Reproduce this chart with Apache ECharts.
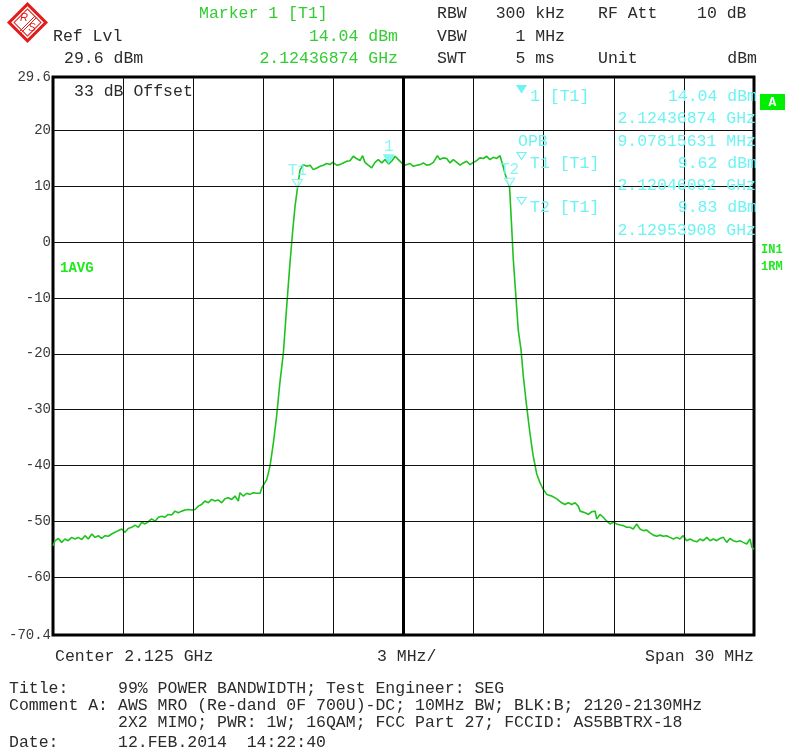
<!DOCTYPE html>
<html><head><meta charset="utf-8">
<script src="https://cdn.jsdelivr.net/npm/echarts@6/dist/echarts.min.js"></script>
<style>html,body{margin:0;padding:0;background:#fff}#c{width:788px;height:756px}</style>
</head><body><div id="c"></div>
<script>
// ---- data ----
const freqMHz = [
2110.00,2110.09,2110.23,2110.37,2110.51,2110.65,2110.80,2110.94,2111.08,2111.23,2111.37,2111.51,2111.66,2111.80,2111.94,
2112.08,2112.23,2112.37,2112.51,2112.65,2112.79,2112.94,2113.08,2113.22,2113.37,2113.51,2113.65,2113.80,2113.94,
2114.08,2114.22,2114.37,2114.51,2114.65,2114.79,2114.93,2115.08,2115.22,2115.36,2115.51,2115.65,2115.79,2115.94,
2116.08,2116.22,2116.36,2116.50,2116.65,2116.79,2116.93,2117.07,2117.22,2117.36,2117.50,2117.65,2117.79,2117.93,
2118.00,2118.14,2118.29,2118.43,2118.57,2118.72,2118.86,2118.94,2119.07,2119.15,2119.29,2119.43,2119.57,2119.71,2119.86,
2120.00,2120.14,2120.26,2120.36,2120.46,2120.57,2120.71,2120.86,2121.00,2121.14,2121.29,2121.43,2121.57,2121.71,2121.85,
2121.97,2122.14,2122.28,2122.42,2122.57,2122.71,2122.85,2122.99,2123.14,2123.25,2123.35,2123.49,2123.64,2123.78,2123.92,
2124.07,2124.21,2124.37,2124.51,2124.64,2124.78,2124.92,2125.06,2125.28,2125.42,2125.57,2125.71,2125.85,2125.99,2126.13,
2126.28,2126.45,2126.56,2126.70,2126.85,2126.99,2127.13,2127.28,2127.42,2127.56,2127.70,2127.85,2127.99,2128.13,2128.27,
2128.42,2128.56,2128.70,2128.84,2128.99,2129.13,2129.27,2129.34,2129.49,2129.54,2129.63,2129.70,2129.80,2129.91,2130.03,
2130.13,2130.27,2130.41,2130.55,2130.70,2130.84,2130.91,2130.98,2131.13,2131.34,2131.56,2131.77,2131.91,2132.05,2132.20,
2132.34,2132.48,2132.56,2132.77,2132.92,2133.06,2133.20,2133.27,2133.41,2133.55,2133.70,2133.84,2133.98,2134.13,2134.27,
2134.41,2134.55,2134.69,2134.83,2134.98,2135.12,2135.26,2135.41,2135.55,2135.69,2135.84,2135.98,2136.12,2136.26,2136.40,
2136.55,2136.69,2136.83,2136.97,2137.12,2137.26,2137.40,2137.55,2137.69,2137.83,2137.98,2138.12,2138.26,2138.40,2138.54,
2138.69,2138.83,2138.97,2139.11,2139.26,2139.40,2139.54,2139.69,2139.83,2139.91,2140.00
];
const levelDbm = [
-54.4,-53.5,-53.1,-53.8,-53.2,-53.5,-52.9,-53.2,-52.9,-53.3,-52.6,-53.2,-52.3,-52.9,-52.6,
-53.1,-52.6,-52.7,-52.3,-52.0,-51.7,-51.4,-52.0,-51.3,-51.1,-50.7,-51.1,-50.2,-50.5,
-50.1,-49.6,-50.0,-49.3,-49.1,-49.3,-48.8,-48.9,-48.2,-48.5,-48.2,-48.0,-47.9,-48.0,
-47.9,-47.3,-47.0,-46.4,-46.7,-46.1,-46.4,-46.2,-46.7,-46.0,-45.8,-46.1,-45.5,-46.4,
-44.9,-45.5,-45.0,-45.2,-44.9,-45.0,-45.0,-44.0,-43.1,-42.5,-40.1,-36.0,-31.2,-25.2,-19.8,
-11.6,-3.8,2.1,6.5,9.6,12.9,13.9,13.6,13.8,13.0,13.3,13.6,13.8,14.1,13.9,
14.3,13.8,13.9,14.2,14.5,14.6,15.4,15.0,14.6,15.5,14.3,13.8,13.3,14.3,14.8,
14.2,14.8,14.0,14.6,15.4,14.8,14.2,13.8,14.1,13.6,13.8,13.9,14.2,13.8,13.9,
14.3,15.5,14.8,15.1,15.0,14.2,14.8,14.3,13.8,14.2,14.5,13.9,14.3,14.6,15.1,
15.0,15.4,14.8,15.2,15.0,15.5,13.5,12.3,10.5,9.8,2.7,-3.2,-9.1,-15.7,-19.3,
-24.1,-29.4,-34.2,-38.3,-41.5,-43.1,-43.7,-44.3,-45.2,-45.5,-46.0,-46.7,-47.0,-46.7,-47.0,
-46.7,-47.3,-48.2,-48.5,-48.8,-48.3,-48.2,-49.6,-48.8,-49.3,-50.0,-50.5,-50.2,-50.5,-50.7,
-50.8,-51.1,-51.1,-51.4,-50.5,-51.4,-51.7,-51.6,-52.1,-52.5,-52.7,-52.5,-52.7,-52.6,-52.9,
-53.2,-52.9,-53.2,-52.6,-53.5,-53.2,-53.5,-53.7,-53.2,-53.5,-52.9,-53.5,-53.2,-53.5,-53.1,
-52.9,-53.8,-53.1,-53.5,-53.7,-53.5,-53.8,-54.1,-53.2,-54.7,-55.0
];
const markerNames = ['1', 'T1', 'T2'];
const markerFreqMHz = [2124.36874, 2120.46092, 2129.53908];
const markerLevelDbm = [14.04, 9.62, 9.83];
const markerFilled = [true, false, false];

const yTickValues = [29.6, 20, 10, 0, -10, -20, -30, -40, -50, -60, -70.4];
const xGridValues = [2113, 2116, 2119, 2122, 2125, 2128, 2131, 2134, 2137];
const xCenterMHz = 2125;
const xMinMHz = 2110, xMaxMHz = 2140, yMinDbm = -70.4, yMaxDbm = 29.6;

// ---- styling ----
const MONO = '"Liberation Mono","DejaVu Sans Mono",monospace';
const FS = 16.5;
const DARK = '#2b2b2b', GREEN = '#33cc33', BRIGHT = '#1ee81e', CYAN = '#6ef3f3', TRACE = '#1ec31e';

function txt(x, y, text, fill, align, size, weight) {
  return {
    type: 'text', x: x, y: y, silent: true, z: 10,
    style: {
      text: text, fill: fill || DARK,
      font: (weight || 'normal') + ' ' + (size || FS) + 'px ' + MONO,
      align: align || 'left', verticalAlign: 'middle',
      textAlign: align || 'left', textVerticalAlign: 'middle'
    }
  };
}
function tri(x, y, filled) {
  return {
    type: 'polygon', silent: true, z: 10,
    shape: { points: [[x - 4.5, y - 3.5], [x + 4.5, y - 3.5], [x, y + 3.5]] },
    style: { fill: filled ? CYAN : '#fff', stroke: CYAN, lineWidth: 1.2 }
  };
}

const graphics = [
  // R&S logo
  { type: 'rect', x: 27.5, y: 22.5, rotation: Math.PI / 4, silent: true,
    shape: { x: -13, y: -13, width: 26, height: 26 },
    style: { fill: '#fff', stroke: '#e21b1b', lineWidth: 3 } },
  { type: 'rect', x: 27.5, y: 22.5, rotation: Math.PI / 4, silent: true,
    shape: { x: -9.5, y: -9.5, width: 19, height: 19 },
    style: { fill: 'none', stroke: '#e21b1b', lineWidth: 1 } },
  { type: 'line', silent: true, shape: { x1: 20, y1: 31, x2: 35, y2: 16 }, style: { stroke: '#e21b1b', lineWidth: 1 } },
  { type: 'line', silent: true, shape: { x1: 21.5, y1: 32.5, x2: 36.5, y2: 17.5 }, style: { stroke: '#e21b1b', lineWidth: 1 } },
  { type: 'text', x: 24, y: 18, silent: true, style: { text: 'R', fill: '#e21b1b', font: 'italic 11px "Liberation Sans"', align: 'center', verticalAlign: 'middle', textAlign: 'center', textVerticalAlign: 'middle' } },
  { type: 'text', x: 32, y: 28, silent: true, style: { text: 'S', fill: '#e21b1b', font: 'italic 11px "Liberation Sans"', align: 'center', verticalAlign: 'middle', textAlign: 'center', textVerticalAlign: 'middle' } },

  // header
  txt(199, 14, 'Marker 1 [T1]', GREEN),
  txt(437, 14, 'RBW'),
  txt(565, 14, '300 kHz', DARK, 'right'),
  txt(598, 14, 'RF Att'),
  txt(697, 14, '10 dB'),
  txt(53, 37, 'Ref Lvl'),
  txt(398, 37, '14.04 dBm', GREEN, 'right'),
  txt(437, 37, 'VBW'),
  txt(565, 37, '1 MHz', DARK, 'right'),
  txt(64, 59, '29.6 dBm'),
  txt(398, 59, '2.12436874 GHz', GREEN, 'right'),
  txt(437, 59, 'SWT'),
  txt(555, 59, '5 ms', DARK, 'right'),
  txt(598, 59, 'Unit'),
  txt(757, 59, 'dBm', DARK, 'right'),

  // inside plot
  txt(74, 92, '33 dB Offset'),
  txt(60, 268, '1AVG', BRIGHT, 'left', 14, 'bold'),

  // marker panel
  tri(521.5, 89, true),
  txt(530, 97, '1 [T1]', CYAN),
  txt(757, 97, '14.04 dBm', CYAN, 'right'),
  txt(756, 119, '2.12436874 GHz', CYAN, 'right'),
  txt(518, 142, 'OPB', CYAN),
  txt(756, 142, '9.07815631 MHz', CYAN, 'right'),
  tri(521.5, 156, false),
  txt(530, 164, 'T1 [T1]', CYAN),
  txt(757, 164, '9.62 dBm', CYAN, 'right'),
  txt(756, 186, '2.12046092 GHz', CYAN, 'right'),
  tri(521.5, 201, false),
  txt(530, 208, 'T2 [T1]', CYAN),
  txt(757, 208, '9.83 dBm', CYAN, 'right'),
  txt(756, 231, '2.12953908 GHz', CYAN, 'right'),

  // right side tags
  { type: 'rect', silent: true, shape: { x: 760, y: 94, width: 25, height: 16 }, style: { fill: '#00ee00' } },
  txt(772.5, 102.5, 'A', '#ffffff', 'center', 13, 'bold'),
  txt(761, 250, 'IN1', BRIGHT, 'left', 12, 'bold'),
  txt(761, 267, '1RM', BRIGHT, 'left', 12, 'bold'),

  // bottom axis texts
  txt(55, 657, 'Center 2.125 GHz'),
  txt(377, 657, '3 MHz/'),
  txt(754, 657, 'Span 30 MHz', DARK, 'right'),

  // footer
  txt(9, 689, 'Title:'),
  txt(118, 689, '99% POWER BANDWIDTH; Test Engineer: SEG'),
  txt(9, 706, 'Comment A:'),
  txt(118, 706, 'AWS MRO (Re-dand 0F 700U)-DC; 10MHz BW; BLK:B; 2120-2130MHz'),
  txt(118, 723, '2X2 MIMO; PWR: 1W; 16QAM; FCC Part 27; FCCID: AS5BBTRX-18'),
  txt(9, 743, 'Date:'),
  txt(118, 743, '12.FEB.2014  14:22:40')
];

const traceData = freqMHz.map((f, i) => [f, levelDbm[i]]);
const markerData = markerNames.map((n, i) => ({
  name: n,
  value: [markerFreqMHz[i], markerLevelDbm[i]],
  itemStyle: { color: markerFilled[i] ? CYAN : '#ffffff', borderColor: CYAN, borderWidth: 1.2 }
}));

const hLines = yTickValues.map(v => {
  const edge = (v === yMinDbm || v === yMaxDbm);
  return {
    yAxis: v,
    lineStyle: { color: edge ? 'rgba(0,0,0,0)' : '#111', width: 1, type: 'solid' },
    label: { show: true, position: 'start', distance: 2, formatter: String(v),
             color: '#3a3a3a', fontFamily: MONO, fontSize: 14 }
  };
});
const vLines = xGridValues.map(v => ({
  xAxis: v,
  lineStyle: { color: v === xCenterMHz ? '#000' : '#111', width: v === xCenterMHz ? 3 : 1, type: 'solid' },
  label: { show: false }
}));

const chart = echarts.init(document.getElementById('c'), null, { renderer: 'canvas' });
chart.setOption({
  animation: false,
  backgroundColor: '#ffffff',
  grid: { left: 53, top: 77, width: 701, height: 558, show: true, borderColor: '#000', borderWidth: 3, backgroundColor: 'transparent' },
  xAxis: { type: 'value', min: xMinMHz, max: xMaxMHz,
           axisLine: { show: false }, axisTick: { show: false }, axisLabel: { show: false }, splitLine: { show: false } },
  yAxis: { type: 'value', min: yMinDbm, max: yMaxDbm,
           axisLine: { show: false }, axisTick: { show: false }, axisLabel: { show: false }, splitLine: { show: false } },
  series: [
    { name: 'grid', type: 'line', data: [], z: 1, silent: true,
      markLine: { silent: true, symbol: ['none', 'none'], animation: false, data: hLines.concat(vLines) } },
    { name: 'trace', type: 'line', data: traceData, z: 3, showSymbol: false, symbol: 'none',
      lineStyle: { color: TRACE, width: 1.6 }, clip: true },
    { name: 'markers', type: 'scatter', data: markerData, z: 4,
      symbol: 'triangle', symbolRotate: 180, symbolSize: [10, 8], symbolOffset: [0, -5],
      label: { show: true, position: 'top', distance: 0, formatter: '{b}', color: CYAN,
               fontFamily: MONO, fontSize: 16 } }
  ],
  graphic: graphics
});
</script>
</body></html>
